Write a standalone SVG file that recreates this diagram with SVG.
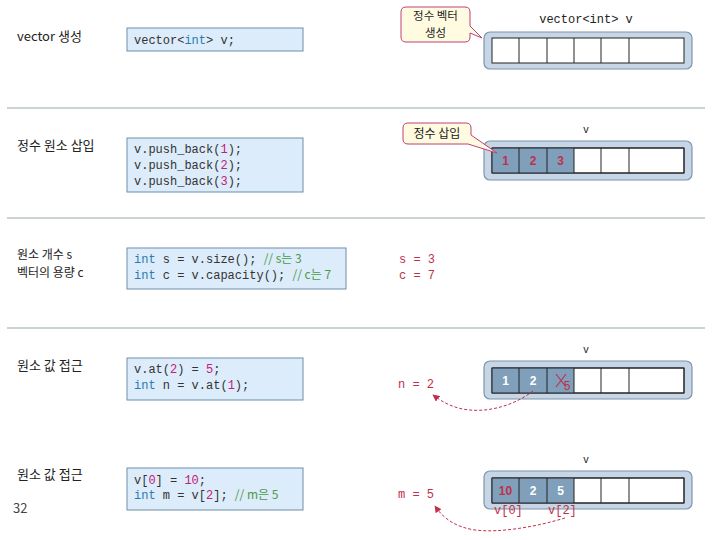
<svg xmlns="http://www.w3.org/2000/svg" width="720" height="540" viewBox="0 0 720 540">
<defs>
<marker id="ah" viewBox="0 0 10 10" refX="9" refY="5" markerWidth="7" markerHeight="7" orient="auto-start-reverse">
<path d="M0,0 L10,5 L0,10 z" fill="#c0304a"/>
</marker>
</defs>
<style>
.lbl{font-family:"Noto Sans CJK KR","Noto Sans",sans-serif;font-size:13px;fill:#222}
.code{font-family:"Liberation Mono","DejaVu Sans Mono","Noto Sans CJK KR",monospace;font-size:12px;fill:#333}
.kw{fill:#2a7ab0}
.num{fill:#c0207a}
.cm{fill:#4a9a4a;font-family:"Noto Sans CJK KR",sans-serif}
.box{fill:#dcecfa;stroke:#6f8fa8;stroke-width:1}
.div{stroke:#9aa8b0;stroke-width:1.2}
.outer{fill:#c6d6e6;stroke:#7f94aa;stroke-width:1.2}
.cell{fill:#fff;stroke:#222;stroke-width:1}
.fill{fill:#7f9fbb}
.red{font-family:"Liberation Mono","DejaVu Sans Mono",monospace;font-size:12px;fill:#c0304a}
.cv{font-family:"Liberation Sans",sans-serif;font-size:12px;font-weight:bold;text-anchor:middle}
.vl{font-family:"Liberation Mono","DejaVu Sans Mono",monospace;font-size:12px;fill:#222;text-anchor:middle}
.callout{fill:#fffbe0;stroke:#c0407a;stroke-width:1}
.cl{font-family:"Noto Sans CJK KR",sans-serif;font-size:12px;fill:#222;text-anchor:middle}
.arr{fill:none;stroke:#c0304a;stroke-width:1;stroke-dasharray:3,2}
</style>

<g id="dividers">
<line class="div" x1="7" y1="108" x2="705" y2="108"/>
<line class="div" x1="7" y1="218" x2="705" y2="218"/>
<line class="div" x1="7" y1="328" x2="705" y2="328"/>
</g>

<g id="row1">
<text class="lbl" x="17" y="41">vector 생성</text>
<rect class="box" x="127" y="28" width="176" height="23"/>
<text class="code" x="134" y="44">vector&lt;<tspan class="kw">int</tspan>&gt; v;</text>
<text class="vl" x="586" y="23">vector&lt;int&gt; v</text>
<rect class="outer" x="484" y="32" width="208" height="37" rx="6"/>
<rect class="cell" x="492" y="38" width="192" height="25"/>
<path d="M519,38V63M547,38V63M574,38V63M601,38V63M629,38V63" stroke="#222" stroke-width="1"/>
</g>

<g id="callout1">
<path class="callout" d="M406,7 H465 Q470,7 470,12 V26 L482,38 L470,33 V37 Q470,42 465,42 H406 Q401,42 401,37 V12 Q401,7 406,7 z"/>
<text class="cl" x="435.5" y="20" style="font-size:11.5px">정수 벡터</text>
<text class="cl" x="435.5" y="37" style="font-size:11.5px">생성</text>
</g>

<g id="row2">
<text class="lbl" x="17" y="150">정수 원소 삽입</text>
<rect class="box" x="127" y="138" width="176" height="54"/>
<text class="code" x="134" y="153">v.push_back(<tspan class="num">1</tspan>);</text>
<text class="code" x="134" y="169">v.push_back(<tspan class="num">2</tspan>);</text>
<text class="code" x="134" y="185">v.push_back(<tspan class="num">3</tspan>);</text>
<text class="vl" x="586" y="133" style="font-size:10px">v</text>
<rect class="outer" x="484" y="141" width="208" height="39" rx="6"/>
<rect class="cell" x="492" y="148" width="192" height="25"/>
<rect class="fill" x="492" y="148" width="82" height="25"/>
<path d="M492,148H684V173H492zM519,148V173M547,148V173M574,148V173M601,148V173M629,148V173" fill="none" stroke="#222" stroke-width="1"/>
<text class="cv" x="505.5" y="165" fill="#c0304a">1</text>
<text class="cv" x="533" y="165" fill="#c0304a">2</text>
<text class="cv" x="560.5" y="165" fill="#c0304a">3</text>
</g>

<g id="callout2">
<path class="callout" d="M408,123 H466 Q471,123 471,128 V135 L497,153 L468,144 H408 Q403,144 403,139 V128 Q403,123 408,123 z"/>
<text class="cl" x="437" y="138">정수 삽입</text>
</g>

<g id="row3">
<text class="lbl" x="17" y="259" style="font-size:12px">원소 개수 s</text>
<text class="lbl" x="17" y="277" style="font-size:12px">벡터의 용량 c</text>
<rect class="box" x="127" y="248" width="219" height="41"/>
<text class="code" x="134" y="263"><tspan class="kw">int</tspan> s = v.size(); <tspan class="cm">// s는 3</tspan></text>
<text class="code" x="134" y="279"><tspan class="kw">int</tspan> c = v.capacity(); <tspan class="cm">// c는 7</tspan></text>
<text class="red" x="399" y="263">s = 3</text>
<text class="red" x="399" y="279">c = 7</text>
</g>

<g id="row4">
<text class="lbl" x="17" y="370">원소 값 접근</text>
<rect class="box" x="127" y="358" width="176" height="42"/>
<text class="code" x="134" y="373">v.at(<tspan class="num">2</tspan>) = <tspan class="num">5</tspan>;</text>
<text class="code" x="134" y="389"><tspan class="kw">int</tspan> n = v.at(<tspan class="num">1</tspan>);</text>
<text class="vl" x="586" y="353" style="font-size:10px">v</text>
<rect class="outer" x="484" y="361" width="208" height="38" rx="6"/>
<rect class="cell" x="492" y="368" width="192" height="25"/>
<rect class="fill" x="492" y="368" width="82" height="25"/>
<path d="M492,368H684V393H492zM519,368V393M547,368V393M574,368V393M601,368V393M629,368V393" fill="none" stroke="#222" stroke-width="1"/>
<text class="cv" x="505.5" y="385" fill="#fff">1</text>
<text class="cv" x="533" y="385" fill="#fff">2</text>
<path d="M556,374L566,387M566,374L556,387" stroke="#c0304a" stroke-width="1.2"/>
<text class="cv" x="567" y="390" fill="#c0304a" style="font-weight:normal">5</text>
<text class="red" x="398" y="388">n = 2</text>
</g>

<g id="row5">
<text class="lbl" x="17" y="479">원소 값 접근</text>
<text class="lbl" x="13" y="513" style="fill:#444">32</text>
<rect class="box" x="127" y="468" width="176" height="42"/>
<text class="code" x="134" y="484">v[<tspan class="num">0</tspan>] = <tspan class="num">10</tspan>;</text>
<text class="code" x="134" y="499"><tspan class="kw">int</tspan> m = v[<tspan class="num">2</tspan>]; <tspan class="cm">// m은 5</tspan></text>
<text class="vl" x="586" y="463" style="font-size:10px">v</text>
<rect class="outer" x="484" y="471" width="208" height="38" rx="6"/>
<rect class="cell" x="492" y="478" width="192" height="25"/>
<rect class="fill" x="492" y="478" width="82" height="25"/>
<path d="M492,478H684V503H492zM519,478V503M547,478V503M574,478V503M601,478V503M629,478V503" fill="none" stroke="#222" stroke-width="1"/>
<text class="cv" x="505.5" y="495" fill="#c0304a">10</text>
<text class="cv" x="533" y="495" fill="#fff">2</text>
<text class="cv" x="560.5" y="495" fill="#fff">5</text>
<text class="red" x="494" y="514">v[0]</text>
<text class="red" x="548" y="514">v[2]</text>
<text class="red" x="398" y="498">m = 5</text>
</g>

<g id="connectors">
<path class="arr" marker-end="url(#ah)" d="M533,391 C515,405 490,412 470,410 C455,409 442,402 433,395"/>
<path class="arr" marker-end="url(#ah)" d="M565,518 C535,527 500,533 475,530 C455,527 443,518 435,506"/>
</g>
</svg>
